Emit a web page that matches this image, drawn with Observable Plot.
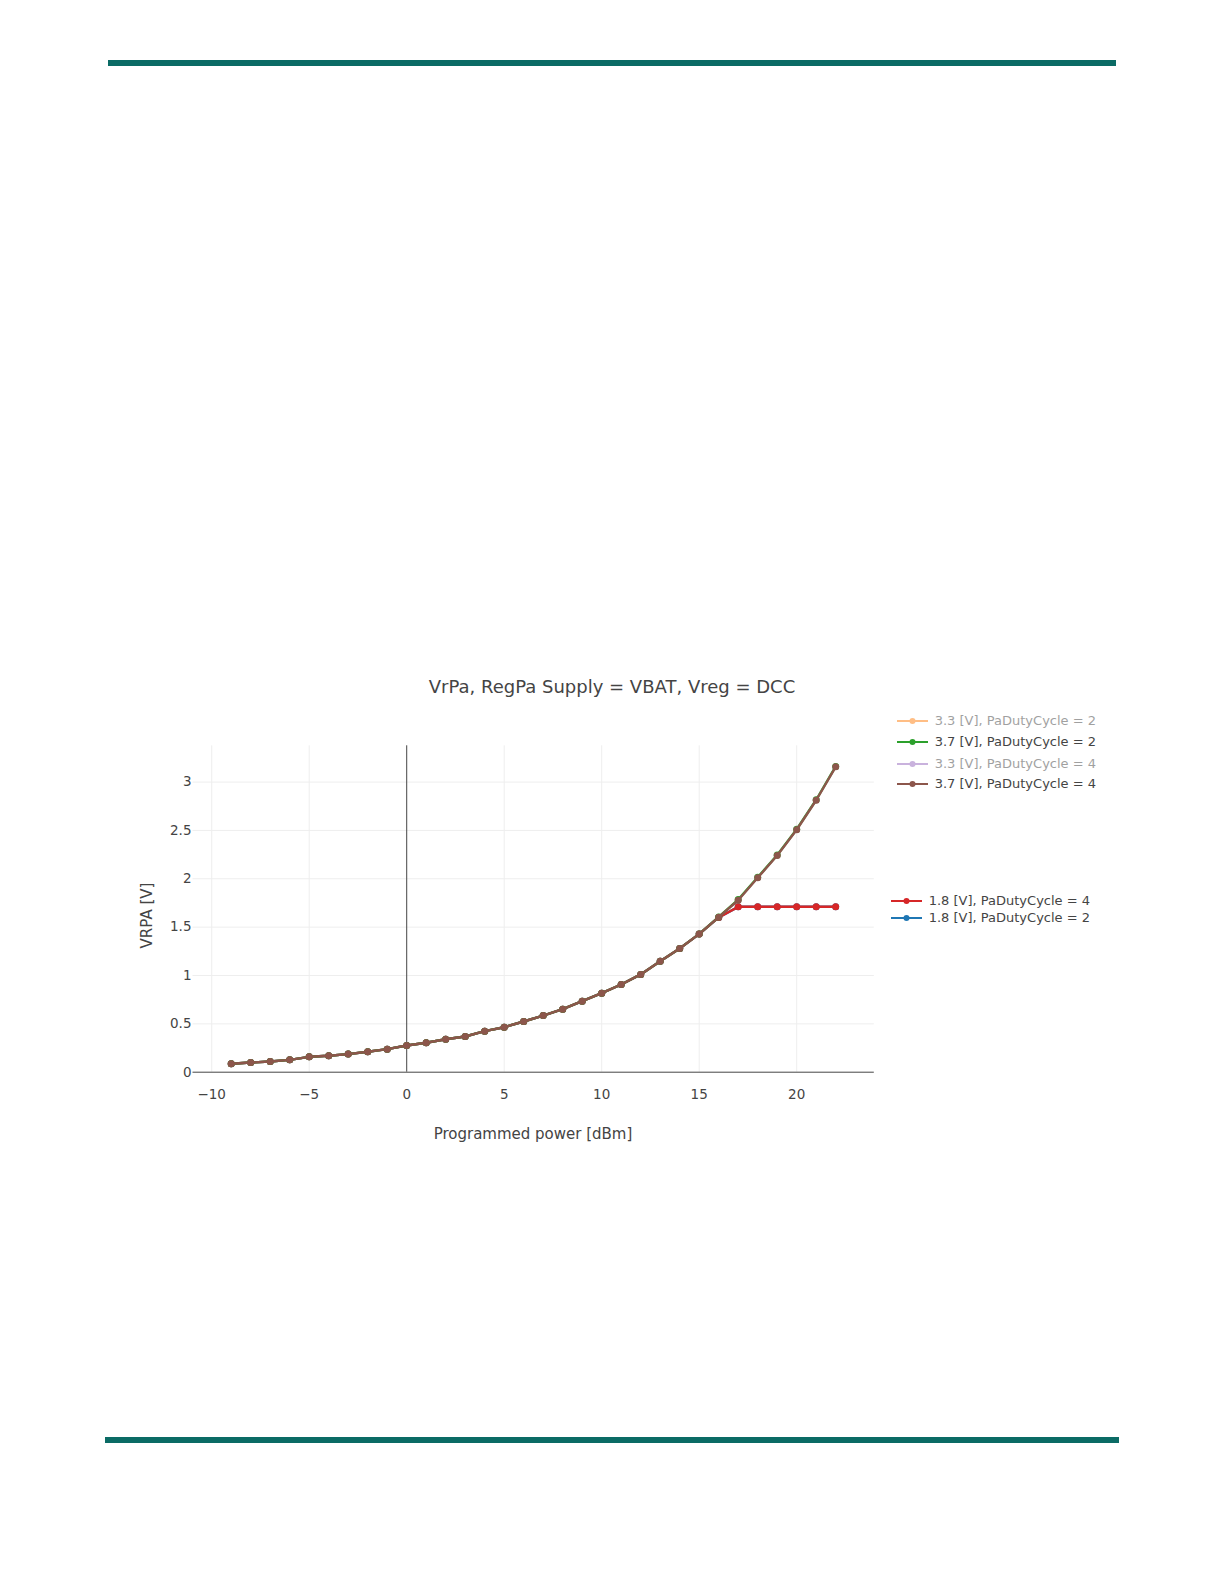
<!DOCTYPE html>
<html>
<head>
<meta charset="utf-8">
<script src="https://cdn.jsdelivr.net/npm/d3@7"></script>
<script src="https://cdn.jsdelivr.net/npm/@observablehq/plot@0.6"></script>
<style>
  html, body { margin: 0; padding: 0; background: #fff; }
  body { position: relative; width: 1224px; height: 1584px; font-family: "DejaVu Sans", Verdana, sans-serif; color: #444; }
  .rule { position: absolute; background: #0b6b65; }
  .title { position: absolute; left: 0; width: 1224px; text-align: center; font-size: 18px; line-height: 22px; top: 676px; color: #444; }
  .axis-title { position: absolute; font-size: 15px; line-height: 15px; text-align: center; color: #444; white-space: nowrap; }
  .legend-row { position: absolute; height: 16px; display: flex; align-items: center; font-size: 13px; line-height: 16px; color: #444; white-space: nowrap; }
  .legend-row svg { display: block; margin-right: 7px; }
  #chart { position: absolute; left: 0; top: 705px; }
</style>
</head>
<body>
<div class="rule" style="left:108px; top:60px; width:1008px; height:6px;"></div>
<div class="rule" style="left:105px; top:1437px; width:1014px; height:6px;"></div>

<div class="title">VrPa, RegPa Supply = VBAT, Vreg = DCC</div>
<div id="chart"></div>
<div class="axis-title" style="left:433px; width:200px; top:1127px;">Programmed power [dBm]</div>
<div class="axis-title" style="left:47px; width:200px; top:908px; transform: rotate(-90deg); transform-origin: 100px 7.5px;">VRPA [V]</div>
<div id="legend"></div>

<script>
// Programmed output power setting, dBm
const power = [-9, -8, -7, -6, -5, -4, -3, -2, -1, 0, 1, 2, 3, 4, 5, 6, 7, 8, 9, 10, 11, 12, 13, 14, 15, 16, 17, 18, 19, 20, 21, 22];

// Measured VRPA, volts, one array per supply / duty-cycle setting
const vrpa18Duty2 = [0.087, 0.100, 0.111, 0.128, 0.159, 0.170, 0.187, 0.212, 0.238, 0.276, 0.304, 0.341, 0.369, 0.424, 0.465, 0.524, 0.586, 0.652, 0.734, 0.817, 0.907, 1.011, 1.146, 1.280, 1.428, 1.600, 1.710, 1.710, 1.710, 1.710, 1.710, 1.710];
const vrpa18Duty4 = [0.087, 0.100, 0.111, 0.128, 0.159, 0.170, 0.187, 0.212, 0.238, 0.276, 0.304, 0.341, 0.369, 0.424, 0.465, 0.524, 0.586, 0.652, 0.734, 0.817, 0.907, 1.011, 1.146, 1.280, 1.428, 1.600, 1.710, 1.710, 1.710, 1.710, 1.710, 1.710];
const vrpa37Duty2 = [0.087, 0.100, 0.111, 0.128, 0.159, 0.170, 0.187, 0.212, 0.238, 0.276, 0.304, 0.341, 0.369, 0.424, 0.465, 0.524, 0.586, 0.652, 0.734, 0.817, 0.907, 1.011, 1.146, 1.280, 1.430, 1.605, 1.785, 2.015, 2.246, 2.512, 2.817, 3.162];
const vrpa37Duty4 = [0.087, 0.100, 0.111, 0.128, 0.159, 0.170, 0.187, 0.212, 0.238, 0.276, 0.304, 0.341, 0.369, 0.424, 0.465, 0.524, 0.586, 0.652, 0.734, 0.817, 0.907, 1.011, 1.146, 1.280, 1.430, 1.603, 1.778, 2.010, 2.241, 2.507, 2.812, 3.158];

// Axis ticks and grid
const xTicks = [-10, -5, 0, 5, 10, 15, 20];
const yTicks = [0, 0.5, 1, 1.5, 2, 2.5, 3];
const xGrid = [-10, -5, 5, 10, 15, 20];
const yGrid = [0.5, 1, 1.5, 2, 2.5, 3];

// Series names and colours
const seriesNames = [
  "1.8 [V], PaDutyCycle = 2",
  "1.8 [V], PaDutyCycle = 4",
  "3.3 [V], PaDutyCycle = 2",
  "3.7 [V], PaDutyCycle = 2",
  "3.3 [V], PaDutyCycle = 4",
  "3.7 [V], PaDutyCycle = 4"
];
const seriesColors = ["#1f77b4", "#d62728", "#ff7f0e", "#2ca02c", "#9467bd", "#8c564b"];

// Traces drawn on the plot, bottom to top (the 3.3 V traces are switched off)
const drawn = [
  {name: seriesNames[0], values: vrpa18Duty2},
  {name: seriesNames[1], values: vrpa18Duty4},
  {name: seriesNames[3], values: vrpa37Duty2},
  {name: seriesNames[5], values: vrpa37Duty4}
];

const minus = d => (d < 0 ? "\u2212" + Math.abs(d) : String(d));

const traceMarks = drawn.flatMap(s => {
  const rows = power.map((p, i) => ({power: p, vrpa: s.values[i], series: s.name}));
  return [
    Plot.line(rows, {x: "power", y: "vrpa", stroke: "series", strokeWidth: 2.4, strokeLinejoin: "round"}),
    Plot.dot(rows, {x: "power", y: "vrpa", fill: "series", r: 3.5, stroke: "none"})
  ];
});

const chart = Plot.plot({
  width: 1224,
  height: 450,
  marginLeft: 192.5,
  marginRight: 350.2,
  marginTop: 40.3,
  marginBottom: 83.3,
  style: {fontFamily: "DejaVu Sans, Verdana, sans-serif", fontSize: "13px", color: "#444", background: "transparent", overflow: "visible"},
  x: {domain: [-10.96, 23.98]},
  y: {domain: [0, 3.375]},
  color: {domain: seriesNames, range: seriesColors},
  marks: [
    Plot.ruleX(xGrid, {stroke: "#eeeeee", strokeWidth: 1}),
    Plot.ruleY(yGrid, {stroke: "#eeeeee", strokeWidth: 1}),
    Plot.ruleX([0], {stroke: "#444", strokeWidth: 1}),
    Plot.ruleY([0], {stroke: "#444", strokeWidth: 1}),
    Plot.axisX({ticks: xTicks, tickSize: 0, tickPadding: 17, tickFormat: minus, label: null, fontSize: 13.5}),
    Plot.axisY({ticks: yTicks, tickSize: 0, tickPadding: 1.5, tickFormat: d => String(d), label: null, fontSize: 13.5}),
    ...traceMarks
  ]
});
document.getElementById("chart").appendChild(chart);

// Legend: two groups on the right, switched-off traces drawn faded
const legendRows = [
  {index: 2, hidden: true,  left: 896.7, top: 713},
  {index: 3, hidden: false, left: 896.7, top: 733.7},
  {index: 4, hidden: true,  left: 896.7, top: 756},
  {index: 5, hidden: false, left: 896.7, top: 776},
  {index: 1, hidden: false, left: 890.7, top: 893},
  {index: 0, hidden: false, left: 890.7, top: 909.7}
];
const legend = document.getElementById("legend");
for (const row of legendRows) {
  const color = seriesColors[row.index];
  const div = document.createElement("div");
  div.className = "legend-row";
  div.style.left = row.left + "px";
  div.style.top = row.top + "px";
  if (row.hidden) div.style.opacity = "0.5";
  div.innerHTML =
    `<svg width="31" height="16"><line x1="0" x2="31" y1="8" y2="8" stroke="${color}" stroke-width="2"/>` +
    `<circle cx="15.5" cy="8" r="3" fill="${color}"/></svg>` +
    `<span>${seriesNames[row.index]}</span>`;
  legend.appendChild(div);
}
</script>
</body>
</html>
